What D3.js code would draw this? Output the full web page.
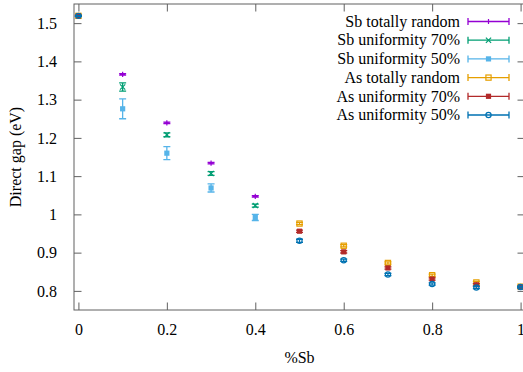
<!DOCTYPE html>
<html><head><meta charset="utf-8">
<script src="https://cdn.jsdelivr.net/npm/d3@7"></script>
<style>body{margin:0;background:#fff}svg{display:block}text{font-family:"Liberation Serif",serif;fill:#000}</style>
</head><body>
<script>
const xTicks = [0, 0.2, 0.4, 0.6, 0.8, 1];
const yTicks = [0.8, 0.9, 1, 1.1, 1.2, 1.3, 1.4, 1.5];
const seriesNames = ["Sb totally random","Sb uniformity 70%","Sb uniformity 50%","As totally random","As uniformity 70%","As uniformity 50%"];
const seriesColors = ["#9400d3","#009e73","#56b4e9","#e69f00","#b22a2a","#0072b2"];
const seriesMarkers = ["plus","cross","fsquare","osquare","fsquare","ocircle"];
const sbX = [0, 0.1, 0.2, 0.3, 0.4];
const asX = [0, 0.5, 0.6, 0.7, 0.8, 0.9, 1.0];
const sbRandomY = [1.519, 1.366, 1.239, 1.134, 1.047];
const sbRandomE = [0.001, 0.002, 0.002, 0.002, 0.002];
const sb70Y = [1.519, 1.333, 1.208, 1.107, 1.023];
const sb70E = [0.001, 0.011, 0.005, 0.005, 0.004];
const sb50Y = [1.519, 1.276, 1.160, 1.069, 0.992];
const sb50E = [0.001, 0.026, 0.017, 0.0105, 0.008];
const asRandomY = [1.519, 0.976, 0.918, 0.873, 0.841, 0.822, 0.811];
const asRandomE = [0.001, 0.003, 0.003, 0.003, 0.003, 0.003, 0.002];
const as70Y = [1.519, 0.956, 0.902, 0.860, 0.831, 0.816, 0.810];
const as70E = [0.001, 0.003, 0.003, 0.003, 0.003, 0.003, 0.002];
const as50Y = [1.519, 0.931, 0.880, 0.843, 0.818, 0.809, 0.810];
const as50E = [0.001, 0.004, 0.003, 0.003, 0.003, 0.003, 0.002];

const seriesX = [sbX, sbX, sbX, asX, asX, asX];
const seriesY = [sbRandomY, sb70Y, sb50Y, asRandomY, as70Y, as50Y];
const seriesE = [sbRandomE, sb70E, sb50E, asRandomE, as70E, as50E];

const W = 523, H = 372;
const L = 74, R = 525, T = 4, B = 310;
const svg = d3.select("body").append("svg").attr("width", W).attr("height", H);
const x = d3.scaleLinear().domain([-0.01, 1.01]).range([L, R]);
const y = d3.scaleLinear().domain([0.75, 1.55]).range([B, T]);
const axisColor = "#606060";
const tl = 7.5;

// frame
svg.append("rect").attr("x", L).attr("y", T).attr("width", R - L).attr("height", B - T)
  .attr("fill", "none").attr("stroke", axisColor).attr("stroke-width", 1);

// axes (inward ticks with D3 axes)
const fmt = d => d3.format("")(+d.toFixed(2));
const ax = svg.append("g").attr("transform", `translate(0,${B})`)
  .call(d3.axisBottom(x).tickValues(xTicks).tickSize(-tl).tickPadding(14).tickFormat(fmt));
const axTop = svg.append("g").attr("transform", `translate(0,${T})`)
  .call(d3.axisTop(x).tickValues(xTicks).tickSize(-tl).tickFormat(""));
const ay = svg.append("g").attr("transform", `translate(${L},0)`)
  .call(d3.axisLeft(y).tickValues(yTicks).tickSize(-tl).tickPadding(17).tickFormat(fmt));
const ayR = svg.append("g").attr("transform", `translate(${R},0)`)
  .call(d3.axisRight(y).tickValues(yTicks).tickSize(-tl).tickFormat(""));
[ax, axTop, ay, ayR].forEach(g => {
  g.select(".domain").remove();
  g.selectAll(".tick line").attr("stroke", axisColor);
  g.selectAll("text").attr("font-family", "Liberation Serif").attr("font-size", 16).attr("fill", "#000");
});
ax.selectAll("text").attr("dy", "0.71em");

// labels
svg.append("text").attr("x", (L + R) / 2).attr("y", 363).attr("text-anchor", "middle")
  .attr("font-size", 16).text("%Sb");
svg.append("text").attr("transform", `translate(21,${(T + B) / 2}) rotate(-90)`)
  .attr("text-anchor", "middle").attr("font-size", 16).text("Direct gap (eV)");

function marker(g, type, cx, cy, color) {
  const s = 2.6;
  if (type === "plus") {
    g.append("path").attr("d", `M${cx - s},${cy}H${cx + s}M${cx},${cy - s}V${cy + s}`)
      .attr("stroke", color).attr("stroke-width", 1.2);
  } else if (type === "cross") {
    g.append("path").attr("d", `M${cx - s},${cy - s}L${cx + s},${cy + s}M${cx - s},${cy + s}L${cx + s},${cy - s}`)
      .attr("stroke", color).attr("stroke-width", 1.2);
  } else if (type === "fsquare") {
    g.append("rect").attr("x", cx - s).attr("y", cy - s).attr("width", 2 * s).attr("height", 2 * s).attr("fill", color);
  } else if (type === "osquare") {
    g.append("rect").attr("x", cx - s).attr("y", cy - s).attr("width", 2 * s).attr("height", 2 * s)
      .attr("fill", "none").attr("stroke", color).attr("stroke-width", 1.2);
  } else if (type === "ocircle") {
    g.append("circle").attr("cx", cx).attr("cy", cy).attr("r", s)
      .attr("fill", "none").attr("stroke", color).attr("stroke-width", 1.2);
  }
}

const plot = svg.append("g");
const cap = 3.5;
seriesNames.forEach((name, i) => {
  const g = plot.append("g");
  const c = seriesColors[i];
  seriesX[i].forEach((xv, j) => {
    const cx = x(xv), yv = seriesY[i][j], e = seriesE[i][j];
    const y1 = y(yv + e), y2 = y(yv - e);
    g.append("path").attr("d", `M${cx},${y1}V${y2}M${cx - cap},${y1}H${cx + cap}M${cx - cap},${y2}H${cx + cap}`)
      .attr("stroke", c).attr("stroke-width", 1.3).attr("fill", "none");
    marker(g, seriesMarkers[i], cx, y(yv), c);
  });
});

// legend
const lg = svg.append("g");
seriesNames.forEach((name, i) => {
  const ly = 21.5 + i * 18.7;
  const c = seriesColors[i];
  lg.append("text").attr("x", 460).attr("y", ly).attr("dy", "0.33em").attr("text-anchor", "end")
    .attr("font-size", 16).text(name);
  lg.append("path").attr("d", `M468,${ly}H509M468,${ly - 3.5}V${ly + 3.5}M509,${ly - 3.5}V${ly + 3.5}`)
    .attr("stroke", c).attr("stroke-width", 1.3).attr("fill", "none");
  marker(lg, seriesMarkers[i], 488.5, ly, c);
});
</script>
</body></html>
